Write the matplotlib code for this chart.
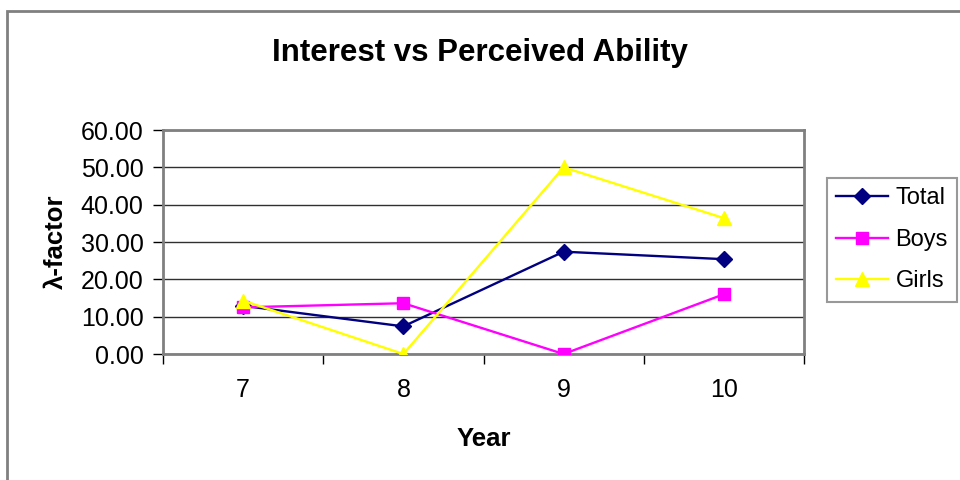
import matplotlib
matplotlib.use("Agg")
import matplotlib.pyplot as plt
import matplotlib.patches as patches
import numpy as np

years = ['7', '8', '9', '10']
total = [12.9, 7.4, 27.4, 25.4]
boys = [12.5, 13.6, 0.0, 16.0]
girls = [14.3, 0.0, 50.0, 36.4]

plt.rcParams['font.family'] = ['Liberation Sans', 'DejaVu Sans']

fig = plt.figure(figsize=(9.6, 4.8), dpi=100)
ax = fig.add_axes([163/960, 1 - 354/480, (804 - 163)/960, (354 - 130)/480])

x = np.arange(len(years))
ax.plot(x, total, color='#000080', lw=1.7, marker='D', ms=8, label='Total', zorder=3)
ax.plot(x, boys, color='#FF00FF', lw=1.7, marker='s', ms=8, label='Boys', zorder=3)
ax.plot(x, girls, color='#FFFF00', lw=1.7, marker='^', ms=10, label='Girls', zorder=3)

ax.set_xlim(-0.5, len(years) - 0.5)
ax.set_ylim(0, 60)
ax.set_yticks(np.arange(0, 61, 10))
ax.set_yticklabels(['%.2f' % v for v in np.arange(0, 61, 10)], fontsize=18)
ax.set_xticks(x)
ax.set_xticklabels(years, fontsize=18)
ax.set_xticks(np.arange(-0.5, len(years), 1), minor=True)
ax.tick_params(axis='x', which='major', length=0, pad=17)
ax.tick_params(axis='x', which='minor', length=7, width=1, direction='out', color='black')
ax.tick_params(axis='y', length=7, width=1, direction='out', pad=7)

ax.grid(True, axis='y', color='#303030', lw=1)
ax.set_axisbelow(True)
for s in ax.spines.values():
    s.set_color('#808080')
    s.set_linewidth(2)

ax.set_xlabel('Year', fontsize=18.5, fontweight='bold', labelpad=18)
ax.set_ylabel('λ-factor', fontsize=18.5, fontweight='bold', labelpad=9)
fig.suptitle('Interest vs Perceived Ability', fontsize=22.5, fontweight='bold', y=0.92)

leg = ax.legend(loc='upper left', bbox_to_anchor=(827/960, 1 - 178/480), bbox_transform=fig.transFigure,
                fontsize=17, frameon=True, fancybox=False, handlelength=2.2,
                borderpad=0.4, labelspacing=0.82, handletextpad=0.3, borderaxespad=0)
leg.get_frame().set_edgecolor('#808080')
leg.get_frame().set_linewidth(1.5)

fig.add_artist(patches.Rectangle((7/960, -0.1), 1.2, (480 - 11)/480 + 0.1, transform=fig.transFigure,
                                 fill=False, edgecolor='#808080', lw=2, clip_on=False))

fig.savefig('out.png', dpi=100)
